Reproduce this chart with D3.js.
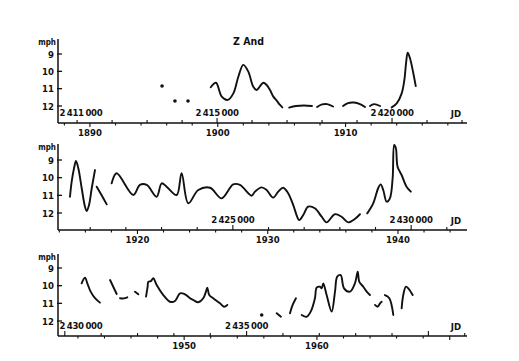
<!DOCTYPE html>
<html><head><meta charset="utf-8">
<script src="https://cdn.jsdelivr.net/npm/d3@7"></script>
<style>body{margin:0;background:#fff}svg text{font-family:"DejaVu Sans Condensed","DejaVu Sans",sans-serif;font-weight:bold;fill:#111}</style>
</head><body><svg id="c" width="519" height="361"></svg>
<script>
// ---- data ----
const magTicks = [9, 10, 11, 12];
const p1YearTicks = [1890, 1900, 1910];
const p2YearTicks = [1920, 1930, 1940];
const p3YearTicks = [1950, 1960];
const p1JD = [2411000, 2415000, 2420000];
const p2JD = [2425000, 2430000];
const p3JD = [2430000, 2435000];

const p1Dots = [[1895.64,10.85],[1896.65,11.71],[1897.67,11.71]];
const p1a = [[1899.45,10.92],[1899.86,10.66],[1900.31,11.46],[1900.78,11.65],[1901.22,11.27],[1901.61,10.31],[1902.0,9.63],[1902.39,10.02],[1902.78,10.89],[1903.05,11.08],[1903.31,10.85],[1903.56,10.66],[1903.83,10.79],[1904.09,11.08],[1904.35,11.46],[1904.61,11.69],[1904.87,11.94],[1905.05,12.08]];
const p1b = [[1905.58,12.09],[1906.12,12.0],[1906.75,11.97],[1907.37,12.0]];
const p1c = [[1907.77,12.06],[1908.16,11.91],[1908.55,11.89],[1909.02,12.03]];
const p1d = [[1909.80,12.0],[1910.19,11.83],[1910.66,11.8],[1911.13,11.89],[1911.52,12.06]];
const p1e = [[1911.91,12.0],[1912.23,11.89],[1912.70,12.0]];
const p1f = [[1913.61,12.08],[1914.0,11.85],[1914.39,11.27],[1914.6,10.5],[1914.73,9.54],[1914.86,8.92],[1915.04,9.25],[1915.3,10.11],[1915.49,10.85]];

const p2a = [[1914.82,11.08],[1914.95,10.23],[1915.13,9.47],[1915.28,9.06],[1915.46,9.47],[1915.72,10.60],[1915.97,11.64],[1916.10,11.89],[1916.28,11.55],[1916.49,10.60],[1916.74,9.57]];
const p2b = [[1916.87,10.51],[1917.25,11.0],[1917.64,11.51]];
const p2c = [[1918.02,10.32],[1918.40,9.75],[1919.68,10.98],[1920.19,10.41],[1920.71,10.41],[1921.47,11.08],[1921.86,10.32],[1922.24,10.51],[1923.01,10.98],[1923.39,9.75],[1923.90,11.45],[1924.67,10.70],[1925.57,10.57],[1926.46,11.17],[1927.35,10.38],[1927.87,10.41],[1928.77,11.02],[1929.02,10.79],[1929.53,10.55],[1929.92,10.70],[1930.42,11.13],[1930.81,10.79],[1931.19,10.57],[1931.57,10.88],[1931.96,11.55],[1932.42,12.40],[1932.73,12.11],[1933.11,11.64],[1933.62,11.73],[1934.14,12.21],[1934.52,12.53],[1935.16,12.07],[1935.67,12.21],[1936.18,12.53],[1936.69,12.34],[1937.08,12.07]];
const p2d = [[1937.64,12.02],[1938.10,11.45],[1938.48,10.60],[1938.67,10.38],[1938.87,10.70],[1939.13,11.36],[1939.38,11.17],[1939.59,10.04],[1939.71,8.15],[1939.84,8.34],[1939.97,9.38],[1940.28,9.85],[1940.66,10.51],[1940.99,10.79]];

const p3a = [[1942.28,9.87],[1942.53,9.55],[1942.71,9.87],[1942.96,10.34],[1943.29,10.71],[1943.66,10.96]];
const p3b = [[1944.42,9.68],[1944.66,10.06],[1944.92,10.47]];
const p3c = [[1945.17,10.71],[1945.45,10.72],[1945.72,10.66]];
const p3d = [[1946.30,10.34],[1946.55,10.49]];
const p3e = [[1947.13,10.62],[1947.25,10.06],[1947.30,9.78],[1947.50,9.74],[1947.68,9.58],[1947.93,9.96],[1948.43,10.53],[1948.93,10.91],[1949.31,10.87],[1949.69,10.43],[1950.06,10.49],[1950.44,10.71],[1950.69,10.81],[1951.06,10.94],[1951.44,10.71],[1951.64,10.34],[1951.74,10.11],[1951.89,10.53],[1952.19,10.71],[1952.70,11.0],[1953.0,11.19],[1953.25,11.09]];
const p3Dots = [[1955.84,11.66]];
const p3f = [[1956.97,11.56],[1957.29,11.76]];
const p3g = [[1957.97,11.56],[1958.17,11.09],[1958.42,10.71]];
const p3h = [[1958.85,11.66],[1959.23,11.76],[1959.53,11.47],[1959.85,10.71],[1959.98,10.11],[1960.23,10.06],[1960.36,10.15],[1960.48,9.87],[1960.73,10.53],[1961.11,11.47],[1961.36,10.34],[1961.53,9.49],[1961.79,9.40],[1962.04,10.15],[1962.49,10.34],[1962.86,9.87],[1963.07,9.21],[1963.19,9.78],[1963.49,10.06],[1963.75,10.34],[1963.99,10.53]];
const p3i = [[1964.37,11.09],[1964.57,11.19],[1964.75,11.0],[1964.87,10.91]];
const p3j = [[1965.12,10.53],[1965.45,10.71],[1965.75,11.66]];
const p3k = [[1966.38,11.28],[1966.5,10.53],[1966.7,10.06],[1966.88,10.15],[1967.21,10.53]];

// ---- layout ----
const W = 519, H = 361;
const svg = d3.select("#c");
svg.append("rect").attr("width", W).attr("height", H).attr("fill", "#fff");

const panels = [
  {xd:[1887.5,1919.5], y9:54,  y12:106, top:39,  bottom:123, years:p1YearTicks, jd:p1JD, segs:[p1a,p1b,p1c,p1d,p1e,p1f], dots:p1Dots, title:true},
  {xd:[1913.9,1945.3], y9:160, y12:213, top:144, bottom:230, years:p2YearTicks, jd:p2JD, segs:[p2a,p2b,p2c,p2d], dots:[]},
  {xd:[1940.5,1971.3], y9:268, y12:321, top:254, bottom:336, years:p3YearTicks, jd:p3JD, segs:[p3a,p3b,p3c,p3d,p3e,p3f,p3g,p3h,p3i,p3j,p3k], dots:p3Dots}
];
const x0 = 58, x1 = 467;
const jdToYear = jd => 1900 + (jd - 2415020.0) / 365.25;
const fmtJD = jd => { const s = String(jd); return s[0] + "\u2009" + s.slice(1,4) + "\u2009" + s.slice(4); };

panels.forEach((p, i) => {
  const g = svg.append("g");
  const x = d3.scaleLinear().domain(p.xd).range([x0, x1]);
  const y = d3.scaleLinear().domain([9, 12]).range([p.y9, p.y12]);

  g.append("line").attr("x1", x0).attr("x2", x0).attr("y1", p.top).attr("y2", p.bottom)
    .attr("stroke", "#111").attr("stroke-width", 1.5);
  g.append("line").attr("x1", x0).attr("x2", x1).attr("y1", p.bottom).attr("y2", p.bottom)
    .attr("stroke", "#111").attr("stroke-width", 1.6);

  magTicks.forEach(m => {
    g.append("line").attr("x1", x0 - 1).attr("x2", x0 + 4).attr("y1", y(m)).attr("y2", y(m))
      .attr("stroke", "#111").attr("stroke-width", 1.3);
    g.append("text").attr("x", x0 - 4).attr("y", y(m) + 3.5).attr("text-anchor", "end")
      .attr("font-size", 9.5).text(m);
  });
  g.append("text").attr("x", x0 - 2).attr("y", p.top + 6).attr("text-anchor", "end")
    .attr("font-size", 8).text("mph");

  const yr = d3.range(Math.ceil(p.xd[0]), Math.floor(p.xd[1]) + 1);
  yr.forEach(v => {
    const big = v % 10 === 0;
    if (v % 2 === 0 || big)
      g.append("line").attr("x1", x(v)).attr("x2", x(v)).attr("y1", p.bottom).attr("y2", p.bottom + (big ? 4 : 2.5))
        .attr("stroke", "#111").attr("stroke-width", 1.1);
  });
  const jdStart = Math.ceil((2415020 + (p.xd[0] - 1900) * 365.25) / 1000) * 1000;
  for (let jd = jdStart; jdToYear(jd) < p.xd[1]; jd += 1000) {
    const big = jd % 5000 === 0;
    g.append("line").attr("x1", x(jdToYear(jd))).attr("x2", x(jdToYear(jd)))
      .attr("y1", p.bottom).attr("y2", p.bottom - (big ? 5 : 3))
      .attr("stroke", "#111").attr("stroke-width", 1.1);
  }
  p.years.forEach(v => {
    g.append("text").attr("x", x(v)).attr("y", p.bottom + 13).attr("text-anchor", "middle")
      .attr("font-size", 9.5).text(v);
  });
  p.jd.forEach(jd => {
    const cx = Math.max(x(jdToYear(jd)), x0 + 23);
    g.append("text").attr("x", cx).attr("y", p.bottom - 7).attr("text-anchor", "middle")
      .attr("font-size", 9.5).attr("letter-spacing", -0.2).text(fmtJD(jd));
  });
  g.append("text").attr("x", 456).attr("y", p.bottom - 6).attr("text-anchor", "middle")
    .attr("font-size", 9.5).text("JD");

  const line = d3.line().x(d => x(d[0])).y(d => y(d[1])).curve(d3.curveCatmullRom.alpha(0.5));
  p.segs.forEach(s => {
    g.append("path").attr("d", line(s)).attr("fill", "none").attr("stroke", "#111")
      .attr("stroke-width", 1.9).attr("stroke-linejoin", "round").attr("stroke-linecap", "round");
  });
  p.dots.forEach(d => {
    g.append("circle").attr("cx", x(d[0])).attr("cy", y(d[1])).attr("r", 1.8).attr("fill", "#111");
  });

  if (p.title) {
    g.append("text").attr("x", 233).attr("y", 45).attr("font-size", 10.5).text("Z And");
  }
});
</script>
</body></html>
